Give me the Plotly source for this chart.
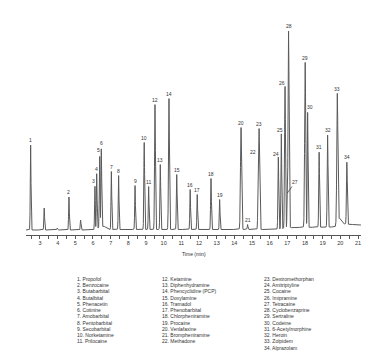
import numpy as np
import plotly.graph_objects as go

# ---------------- data ----------------
peak_ids = [str(i) for i in range(1, 35)]
peak_times = [2.47, 4.64, 6.11, 6.21, 6.38, 6.47, 7.04, 7.45, 8.38, 8.90,
              9.15, 9.51, 9.81, 10.30, 10.74, 11.50, 11.90, 12.68, 13.17, 14.38,
              14.75, 15.36, 15.40, 16.49, 16.66, 16.87, 17.00, 17.07, 18.01, 18.15,
              18.80, 19.28, 19.83, 20.37]
peak_heights = [85, 33, 43, 55, 71, 78, 58, 54, 44, 87,
                43, 125, 65, 131, 55, 40, 35, 51, 30, 102,
                5, 74, 101, 72, 95, 142, 37, 197, 165, 115,
                75, 92, 129, 62]
peak_widths = [0.02, 0.02, 0.02, 0.02, 0.022, 0.022, 0.02, 0.02, 0.02, 0.022,
               0.02, 0.024, 0.022, 0.026, 0.022, 0.02, 0.02, 0.022, 0.02, 0.032,
               0.02, 0.024, 0.032, 0.022, 0.022, 0.026, 0.02, 0.03, 0.03, 0.022,
               0.022, 0.024, 0.03, 0.024]

# unlabelled minor peaks
minor_times = [3.24, 3.98, 5.30]
minor_heights = [22, 2, 10]

# baseline drift (time, level)
baseline_times = [2.21, 6.0, 6.6, 6.9, 16.3, 17.3, 19.7, 19.95, 20.2, 21.17]
baseline_levels = [0, 0, 4, 0.5, 0.5, 2.5, 3, 12, 6, 5]

tick_labels = [str(i) for i in range(3, 22)]

compounds = [
    "1. Propofol", "2. Benzocaine", "3. Butabarbital", "4. Butalbital", "5. Phenacetin",
    "6. Cotinine", "7. Amobarbital", "8. Pentobarbital", "9. Secobarbital", "10. Norketamine",
    "11. Prilocaine", "12. Ketamine", "13. Diphenhydramine", "14. Phencyclidine (PCP)",
    "15. Doxylamine", "16. Tramadol", "17. Phenobarbital", "18. Chlorpheniramine",
    "19. Procaine", "20. Venlafaxine", "21. Brompheniramine", "22. Methadone",
    "23. Dextromethorphan", "24. Amitriptyline", "25. Cocaine", "26. Imipramine",
    "27. Tetracaine", "28. Cyclobenzaprine", "29. Sertraline", "30. Codeine",
    "31. 6-Acetylmorphine", "32. Heroin", "33. Zolpidem", "34. Alprazolam",
]

# ---------------- build trace ----------------
W, H = 372, 360
t = np.arange(2.21, 21.17, 0.003)
base = np.interp(t, baseline_times, baseline_levels)
sig = np.zeros_like(t)
for pt, ph, pw in zip(peak_times, peak_heights, peak_widths):
    sig = np.maximum(sig, ph * np.exp(-0.5 * ((t - pt) / pw) ** 2))
for pt, ph in zip(minor_times, minor_heights):
    sig = np.maximum(sig, ph * np.exp(-0.5 * ((t - pt) / 0.02) ** 2))
y = base + sig

fig = go.Figure()
fig.add_trace(go.Scatter(x=t, y=y, mode="lines",
                         line=dict(color="#5a5a5a", width=1), hoverinfo="skip"))

FONT = "Liberation Sans, Arial, sans-serif"
TXT = "#333333"

# label offsets in pixels (dx, dy) relative to peak apex
label_shift = {"3": (-1.5, 5), "4": (-0.5, 5), "5": (-1.7, 6), "6": (0.4, 6),
               "22": (-5, 4), "24": (-2, 3), "25": (-1, 3.5), "26": (-2.7, 3),
               "30": (2.6, 5)}

annotations = []
for pid, pt, ph in zip(peak_ids, peak_times, peak_heights):
    if pid == "27":
        continue
    dx, dy = label_shift.get(pid, (0, 4.7))
    bl = float(np.interp(pt, baseline_times, baseline_levels))
    annotations.append(dict(x=pt, y=ph + bl, xref="x", yref="y", text=pid,
                            showarrow=False, xanchor="center", yanchor="middle",
                            xshift=dx, yshift=dy,
                            font=dict(size=5, color=TXT, family=FONT)))
i27 = peak_ids.index("27")
annotations.append(dict(x=peak_times[i27], y=peak_heights[i27], xref="x", yref="y",
                        text="27", showarrow=True, arrowhead=0, arrowwidth=0.7,
                        arrowcolor="#333333", ax=8, ay=-11, standoff=0,
                        font=dict(size=5, color=TXT, family=FONT)))

# x axis title
annotations.append(dict(x=185.5 / W, y=1 - 246 / H, xref="paper", yref="paper",
                        text="Time (min)", showarrow=False, xanchor="center",
                        yanchor="middle", font=dict(size=5, color=TXT, family=FONT)))

# compound list
col_x = [67, 152, 254]
per_col = [11, 11, 12]
idx = 0
for c, n in enumerate(per_col):
    for r in range(n):
        annotations.append(dict(x=col_x[c] / W, y=1 - (270.7 + r * 6.27) / H,
                                xref="paper", yref="paper", text=compounds[idx],
                                showarrow=False, xanchor="left", yanchor="middle",
                                font=dict(size=5, color=TXT, family=FONT)))
        idx += 1

tick_vals = []
tick_text = []
for lab in tick_labels:
    v = float(lab)
    tick_vals += [v - 0.5, v]
    tick_text += ["", lab]

fig.update_layout(
    width=W, height=H,
    margin=dict(l=0, r=0, t=0, b=0),
    paper_bgcolor="white", plot_bgcolor="white",
    showlegend=False,
    xaxis=dict(domain=[18 / W, 353 / W], range=[2.208, 21.17],
               showline=True, linecolor="#555555", linewidth=1,
               ticks="outside", ticklen=2.5, tickwidth=0.8, tickcolor="#555555",
               tickvals=tick_vals, ticktext=tick_text,
               tickfont=dict(size=5.5, color=TXT, family=FONT),
               showgrid=False, zeroline=False, fixedrange=True),
    yaxis=dict(domain=[1 - 227 / H, 1], range=[-5, 222], visible=False,
               showgrid=False, zeroline=False, fixedrange=True),
    annotations=annotations,
)

fig.write_html("out.html")
